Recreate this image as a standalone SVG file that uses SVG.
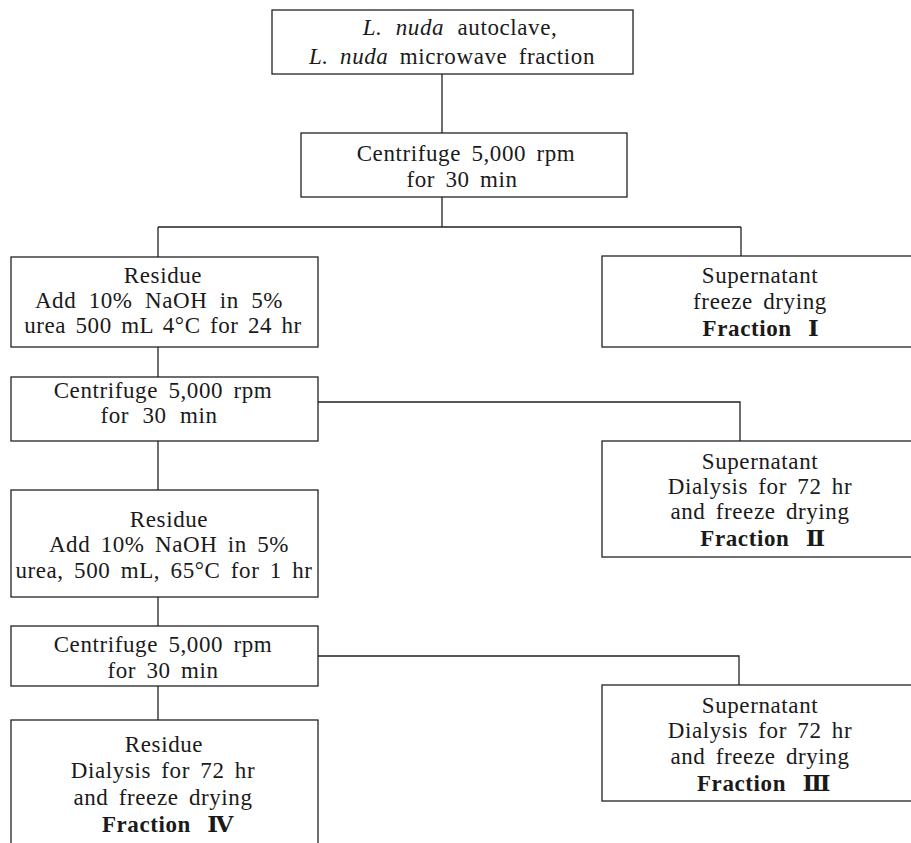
<svg xmlns="http://www.w3.org/2000/svg" width="911" height="843" viewBox="0 0 911 843">
<style>
.box{fill:#fff;stroke:#222;stroke-width:1.3}
.ln{fill:none;stroke:#222;stroke-width:1.3}
text{font-family:"Liberation Serif","DejaVu Serif",serif;font-size:23px;fill:#1a1a1a;text-anchor:middle;letter-spacing:0.6px;word-spacing:4px}
.b{font-weight:bold;word-spacing:10px}
.i{font-style:italic}
</style>
<rect width="911" height="843" fill="#fff"/>
<g id="connectors">
<path class="ln" d="M442,74 V133"/>
<path class="ln" d="M442,197 V227 M158,227 H741 M158,227 V257 M741,227 V256"/>
<path class="ln" d="M158,347 V377"/>
<path class="ln" d="M318,402 H740 V441"/>
<path class="ln" d="M158,441 V490"/>
<path class="ln" d="M158,597 V626"/>
<path class="ln" d="M318,656 H739 V685"/>
<path class="ln" d="M158,686 V720"/>
</g>
<g id="n1">
<rect class="box" x="272" y="10" width="361" height="64"/>
<text x="460" y="35" style="word-spacing:7px"><tspan class="i">L. nuda</tspan> autoclave,</text>
<text x="452" y="64" style="word-spacing:5px"><tspan class="i">L. nuda</tspan> microwave fraction</text>
</g>
<g id="n2">
<rect class="box" x="301" y="133" width="326" height="64"/>
<text x="466" y="161">Centrifuge 5,000 rpm</text>
<text x="462" y="187">for 30 min</text>
</g>
<g id="n3">
<rect class="box" x="11" y="257" width="307" height="90"/>
<text x="163" y="283">Residue</text>
<text x="159" y="308" style="word-spacing:6px">Add 10% NaOH in 5%</text>
<text x="163" y="333" style="word-spacing:3px">urea 500 mL 4°C for 24 hr</text>
</g>
<g id="n4">
<rect class="box" x="602" y="256" width="320" height="91"/>
<text x="760" y="283">Supernatant</text>
<text x="760" y="309">freeze drying</text>
<text x="761" y="336" class="b">Fraction Ⅰ</text>
</g>
<g id="n5">
<rect class="box" x="11" y="377" width="307" height="64"/>
<text x="163" y="398">Centrifuge 5,000 rpm</text>
<text x="159" y="423" style="word-spacing:7px">for 30 min</text>
</g>
<g id="n6">
<rect class="box" x="602" y="441" width="320" height="116"/>
<text x="760" y="469">Supernatant</text>
<text x="760" y="494">Dialysis for 72 hr</text>
<text x="760" y="519">and freeze drying</text>
<text x="763" y="546" class="b">Fraction Ⅱ</text>
</g>
<g id="n7">
<rect class="box" x="11" y="490" width="307" height="107"/>
<text x="169" y="527">Residue</text>
<text x="169" y="552">Add 10% NaOH in 5%</text>
<text x="164" y="578">urea, 500 mL, 65°C for 1 hr</text>
</g>
<g id="n8">
<rect class="box" x="11" y="626" width="307" height="60"/>
<text x="163" y="652">Centrifuge 5,000 rpm</text>
<text x="163" y="678">for 30 min</text>
</g>
<g id="n9">
<rect class="box" x="602" y="685" width="320" height="116"/>
<text x="760" y="713">Supernatant</text>
<text x="760" y="738">Dialysis for 72 hr</text>
<text x="760" y="764">and freeze drying</text>
<text x="764" y="791" class="b">Fraction Ⅲ</text>
</g>
<g id="n10">
<rect class="box" x="11" y="720" width="307" height="140"/>
<text x="164" y="752">Residue</text>
<text x="163" y="778">Dialysis for 72 hr</text>
<text x="163" y="805">and freeze drying</text>
<text x="168" y="832" class="b">Fraction Ⅳ</text>
</g>
</svg>
